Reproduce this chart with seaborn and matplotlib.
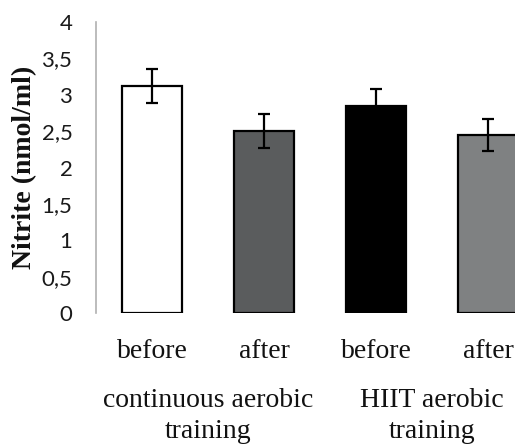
import matplotlib
matplotlib.use("Agg")
import matplotlib.pyplot as plt
import matplotlib.transforms as mtransforms
import seaborn as sns
import pandas as pd

# data
bar_ids = ["c_before", "c_after", "h_before", "h_after"]
tick_labels = ["before", "after", "before", "after"]
values = [3.12, 2.50, 2.84, 2.45]
errors = [0.24, 0.23, 0.24, 0.22]
group_labels = ["continuous aerobic\ntraining", "HIIT aerobic\ntraining"]
colors = ["#ffffff", "#5a5c5d", "#000000", "#7f8182"]
y_ticks = [0, 0.5, 1, 1.5, 2, 2.5, 3, 3.5, 4]
y_tick_labels = ["0", "0,5", "1", "1,5", "2", "2,5", "3", "3,5", "4"]

sns.set_theme(style="white")
df = pd.DataFrame({"bar": bar_ids, "value": values})

fig = plt.figure(figsize=(5.15, 4.46), dpi=100)
ax = fig.add_axes([96 / 515, 133 / 446, 448 / 515, 291 / 446])

sns.barplot(data=df, x="bar", y="value", hue="bar", palette=colors,
            order=bar_ids, width=0.535, edgecolor="black", linewidth=1.6,
            legend=False, errorbar=None, ax=ax)

for p, e in zip(ax.patches, errors):
    cx = p.get_x() + p.get_width() / 2
    ax.errorbar(cx, p.get_height(), yerr=e, color="black", capsize=4.5,
                elinewidth=1.6, capthick=1.6, fmt="none", zorder=5)

ax.set_ylim(0, 4)
ax.set_xlim(-0.5, 3.5)
ax.set_yticks(y_ticks)
ax.set_yticklabels(y_tick_labels, fontfamily="Lato", fontsize=16, color="#1a1a1a")
ax.tick_params(axis="y", length=0, pad=17)
ax.set_xticks(range(4))
ax.set_xticklabels(tick_labels, fontfamily="Liberation Serif", fontsize=20, color="#111111")
ax.tick_params(axis="x", length=0, pad=19)
ax.set_xlabel("")
ax.set_ylabel("Nitrite (nmol/ml)", fontfamily="Liberation Serif", fontweight="bold",
              fontsize=20, color="#111111", labelpad=3)

for s in ["top", "right", "bottom"]:
    ax.spines[s].set_visible(False)
ax.spines["left"].set_color("#b0b0b0")
ax.spines["left"].set_linewidth(1.2)

trans = mtransforms.blended_transform_factory(ax.transData, fig.transFigure)
ax.text(0.5, 1 - 416 / 446, group_labels[0], transform=trans, ha="center", va="center",
        fontfamily="Liberation Serif", fontsize=20, color="#111111", linespacing=1.35)
ax.text(2.5, 1 - 416 / 446, group_labels[1], transform=trans, ha="center", va="center",
        fontfamily="Liberation Serif", fontsize=20, color="#111111", linespacing=1.35)

fig.savefig("out.png", dpi=100)
